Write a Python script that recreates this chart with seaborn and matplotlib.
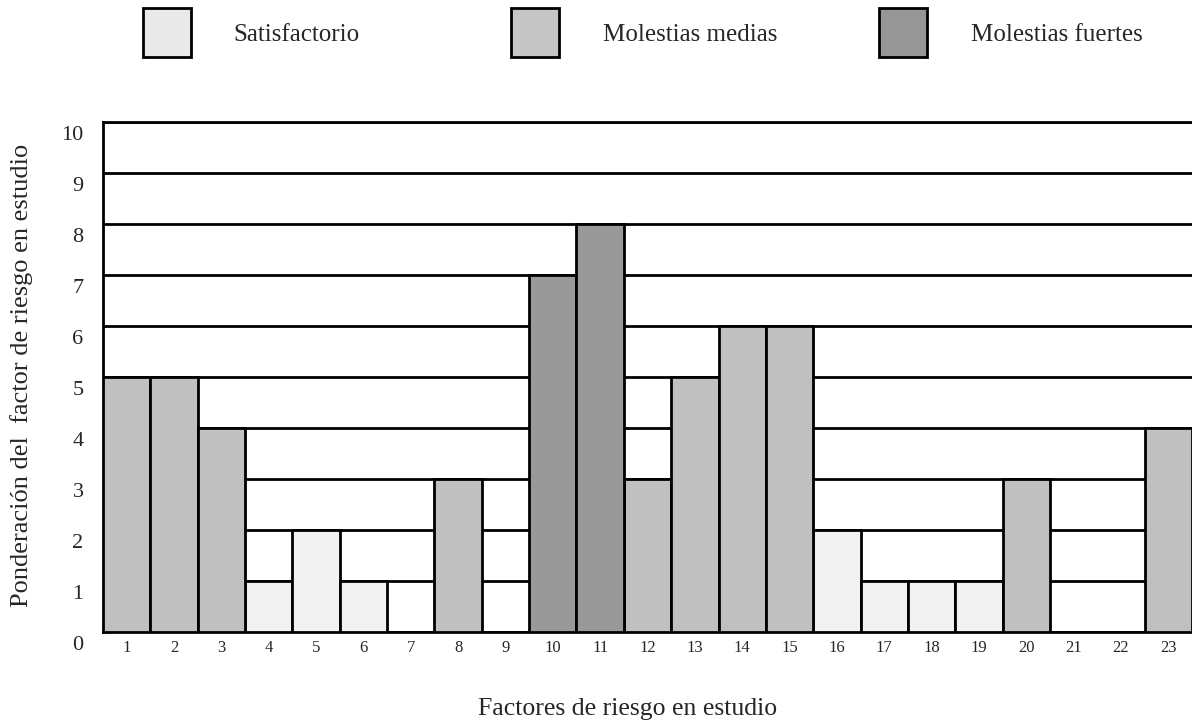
import matplotlib
matplotlib.use('Agg')
import matplotlib.pyplot as plt
import matplotlib.transforms as mtransforms
from matplotlib.patches import Rectangle
import pandas as pd
import seaborn as sns

# data
factores = [str(i) for i in range(1, 24)]
ponderacion = [5, 5, 4, 1, 2, 1, 0, 3, 0, 7, 8, 3, 5, 6, 6, 2, 1, 1, 1, 3, 0, 0, 4]
nivel = ['Molestias medias', 'Molestias medias', 'Molestias medias',
         'Satisfactorio', 'Satisfactorio', 'Satisfactorio', 'Satisfactorio',
         'Molestias medias', 'Satisfactorio',
         'Molestias fuertes', 'Molestias fuertes',
         'Molestias medias', 'Molestias medias', 'Molestias medias', 'Molestias medias',
         'Satisfactorio', 'Satisfactorio', 'Satisfactorio', 'Satisfactorio',
         'Molestias medias', 'Satisfactorio', 'Satisfactorio', 'Molestias medias']
categorias = ['Satisfactorio', 'Molestias medias', 'Molestias fuertes']
colores_barra = ['#f2f2f2', '#c0c0c0', '#999999']
colores_leyenda = ['#e9e9e9', '#c6c6c6', '#969696']

df = pd.DataFrame({'factor': factores, 'valor': ponderacion, 'nivel': nivel})

sns.set_style('white')
plt.rcParams['font.family'] = ['Liberation Serif', 'DejaVu Serif']

fig = plt.figure(figsize=(11.92, 7.24), dpi=100)
ax = fig.add_axes([103 / 1192, 92 / 724, 1 - 103 / 1192, 510 / 724])

sns.barplot(data=df, x='factor', y='valor', hue='nivel', hue_order=categorias,
            palette=dict(zip(categorias, colores_barra)), dodge=False, width=1.0,
            edgecolor='black', linewidth=2, legend=False, ax=ax, zorder=3)

ax.set_xlim(-0.5, 22.5)
ax.set_ylim(0, 10)
ax.set_yticks(range(0, 11))
ax.set_yticklabels([str(i) for i in range(0, 11)], fontsize=16)
ax.tick_params(axis='x', length=0, pad=6, labelsize=12)
ax.tick_params(axis='y', length=0, pad=14)
# y labels sit slightly under their lines in the original
off = mtransforms.ScaledTranslation(0, -11 / 100, fig.dpi_scale_trans)
for lab in ax.get_yticklabels():
    lab.set_transform(lab.get_transform() + off)

ax.set_axisbelow(True)
ax.yaxis.grid(True, color='black', linewidth=2)
for s in ['left', 'top', 'bottom']:
    ax.spines[s].set_visible(True)
    ax.spines[s].set_color('black')
    ax.spines[s].set_linewidth(2)
ax.spines['right'].set_visible(False)

ax.set_xlabel('')
ax.set_ylabel('')
fig.text(628 / 1192, 1 - 709 / 724, 'Factores de riesgo en estudio',
         ha='center', va='center', fontsize=18.5)
fig.text(22 / 1192, 1 - 375 / 724, 'Ponderación del  factor de riesgo en estudio',
         ha='center', va='center', rotation=90, fontsize=19)

# legend boxes across the top
box_x = [143, 511, 879]
text_x = [233, 603, 971]
for bx, tx, c, lab in zip(box_x, text_x, colores_leyenda, categorias):
    fig.patches.append(Rectangle((bx / 1192, 1 - 57 / 724), 48 / 1192, 49 / 724,
                                 transform=fig.transFigure, facecolor=c,
                                 edgecolor='black', linewidth=2))
    fig.text(tx / 1192, 1 - 35 / 724, lab, ha='left', va='center', fontsize=18)

fig.savefig('out.png', dpi=100)
